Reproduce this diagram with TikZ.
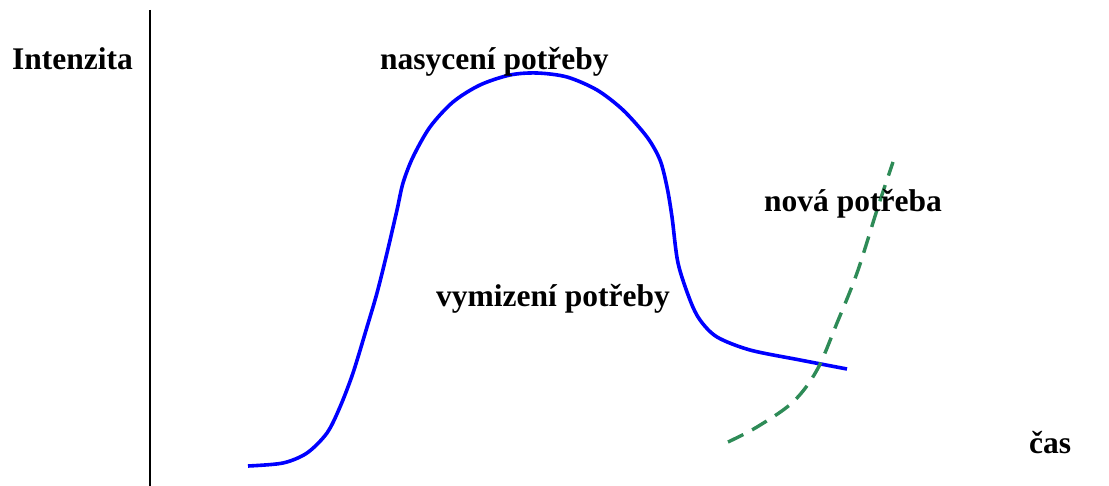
\documentclass[tikz,border=0pt]{standalone}
\usepackage{fontspec}
\setmainfont{Liberation Serif}
\definecolor{curveblue}{RGB}{0,0,255}
\definecolor{newgreen}{RGB}{46,139,87}
\begin{document}
\begin{tikzpicture}[x=1pt,y=-1pt,
  lbl/.style={anchor=base west,inner sep=0pt,font=\fontsize{31.5}{36}\selectfont\bfseries},
  axis/.style={line width=1.8pt,black},
  need/.style={line width=3.6pt,curveblue,line cap=butt},
  newneed/.style={line width=3.4pt,newgreen,dash pattern=on 17pt off 10pt}]
\useasboundingbox (0,0) rectangle (1109,486);
\coordinate (ax1) at (150,10);
\coordinate (ax2) at (150,486);
\draw[axis] (ax1) -- (ax2);
\draw[need] plot[smooth,tension=0.5] coordinates {(248,466) (283,463) (307,453) (327,433) (340,407) (353,373) (367,327) (377,293) (387,253) (397,210) (403,183) (413,157) (430,127) (453,102) (480,85) (510,75) (537,73) (567,77) (597,90) (623,110) (647,137) (660,160) (667,187) (672,217) (678,263) (690,300) (700,320) (717,337) (750,350) (800,360) (847,369)};
\draw[newneed] plot[smooth,tension=0.55] coordinates {(728,442) (757,427) (793,402) (817,370) (837,323) (857,273) (877,210) (893,162)};
\node[lbl] (int) at (12,70) {Intenzita};
\node[lbl] (nas) at (380,70) {nasycení potřeby};
\node[lbl] (vym) at (436,307) {vymizení potřeby};
\node[lbl] (nova) at (764,212) {nová potřeba};
\node[lbl] (cas) at (1029,453) {čas};
\end{tikzpicture}
\end{document}
